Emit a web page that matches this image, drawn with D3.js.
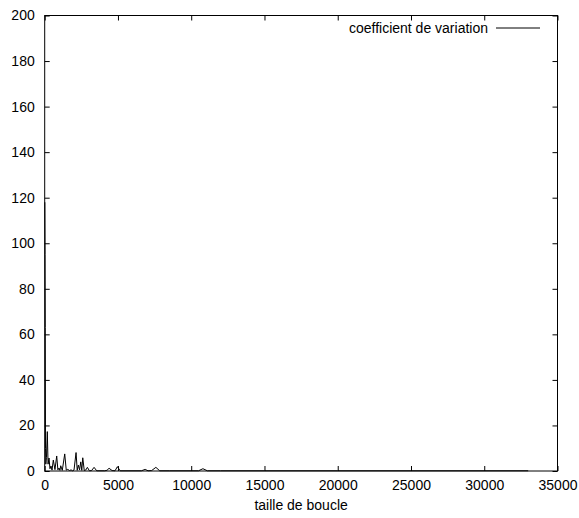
<!DOCTYPE html>
<html>
<head>
<meta charset="utf-8">
<script src="https://cdn.jsdelivr.net/npm/d3@7"></script>
<style>
  body { margin: 0; background: #fff; }
  svg { display: block; }
  text { font-family: "Liberation Sans", Arial, sans-serif; font-size: 14px; fill: #000; }
</style>
</head>
<body>
<svg id="chart" width="579" height="518"></svg>
<script>
'use strict';

// loop size vs coefficient of variation
var loopSizes = [10, 25, 40, 55, 75, 120, 178, 230, 294, 360, 431, 500, 588, 700, 820, 900, 977, 1040, 1094, 1200, 1367, 1470, 1572, 1700, 1800, 1900, 2000, 2140, 2220, 2297, 2380, 2461, 2530, 2598, 2700, 2800, 2912, 3050, 3200, 3370, 3550, 4100, 4250, 4395, 4600, 4800, 4963, 5150, 6600, 6856, 7050, 7300, 7588, 7850, 8500, 10500, 10800, 11100, 12000, 15000, 20000, 25000, 30000, 33000];
var cvValues = [118, 95, 63, 10, 3, 6, 17.3, 3, 5.7, 1, 2.2, 0.4, 4.8, 0.6, 6.6, 0.5, 1.3, 0.3, 2.3, 0.3, 7.5, 0.4, 0.7, 0.2, 0.5, 0.1, 0.4, 8.1, 0.3, 2.6, 0.5, 4, 0.3, 5.8, 0.2, 0.4, 1.6, 0.1, 0.2, 1.6, 0.1, 0.1, 0.3, 1.2, 0.2, 0.1, 1.9, 0.1, 0.1, 0.7, 0.1, 0.2, 1.6, 0.1, 0.1, 0.1, 1, 0.1, 0.1, 0.1, 0.1, 0.1, 0.1, 0.1];
var xTicks = [0, 5000, 10000, 15000, 20000, 25000, 30000, 35000];
var yTicks = [0, 20, 40, 60, 80, 100, 120, 140, 160, 180, 200];
var seriesName = "coefficient de variation";
var xLabel = "taille de boucle";

var margin = {left: 44.7, right: 21.5, top: 15.5, bottom: 47};
var svg = d3.select("#chart");
var width = +svg.attr("width");
var height = +svg.attr("height");
var plotW = width - margin.left - margin.right;
var plotH = height - margin.top - margin.bottom;

var x = d3.scaleLinear().domain([0, 35000]).range([margin.left, margin.left + plotW]);
var y = d3.scaleLinear().domain([0, 200]).range([margin.top + plotH, margin.top]);

var points = loopSizes.map(function(d, i) {
    return [d, cvValues[i]];
});

var tickLen = 5;

// ticks on all four sides, pointing inward (gnuplot style)
var axisBottom = d3.axisBottom(x).tickValues(xTicks).tickSize(-tickLen).tickPadding(9).tickFormat(d3.format("d"));
var axisTop = d3.axisTop(x).tickValues(xTicks).tickSize(-tickLen).tickFormat("");
var axisLeft = d3.axisLeft(y).tickValues(yTicks).tickSize(-tickLen).tickPadding(10).tickFormat(d3.format("d"));
var axisRight = d3.axisRight(y).tickValues(yTicks).tickSize(-tickLen).tickFormat("");

function styleAxis(g) {
    g.select(".domain").remove();
    g.selectAll(".tick line").attr("stroke", "#000").attr("stroke-width", 1);
    g.selectAll("text").attr("font-size", "14px").attr("font-family", "Liberation Sans, Arial, sans-serif").attr("fill", "#000");
}

svg.append("g").attr("transform", "translate(0," + (margin.top + plotH) + ")").call(axisBottom).call(styleAxis);
svg.append("g").attr("transform", "translate(0," + margin.top + ")").call(axisTop).call(styleAxis);
svg.append("g").attr("transform", "translate(" + margin.left + ",0)").call(axisLeft).call(styleAxis);
svg.append("g").attr("transform", "translate(" + (margin.left + plotW) + ",0)").call(axisRight).call(styleAxis);

svg.append("rect")
    .attr("x", margin.left)
    .attr("y", margin.top)
    .attr("width", plotW)
    .attr("height", plotH)
    .attr("fill", "none")
    .attr("stroke", "#000")
    .attr("stroke-width", 1);

var line = d3.line()
    .x(function(d) { return x(d[0]); })
    .y(function(d) { return y(d[1]); });

svg.append("path")
    .datum(points)
    .attr("fill", "none")
    .attr("stroke", "#000")
    .attr("stroke-width", 1)
    .attr("d", line);

// legend
var legendY = 28;
svg.append("text")
    .attr("x", 488)
    .attr("y", legendY + 5)
    .attr("text-anchor", "end")
    .text(seriesName);
svg.append("line")
    .attr("x1", 496)
    .attr("x2", 540)
    .attr("y1", legendY)
    .attr("y2", legendY)
    .attr("stroke", "#000")
    .attr("stroke-width", 1);

svg.append("text")
    .attr("x", margin.left + plotW / 2)
    .attr("y", 510)
    .attr("text-anchor", "middle")
    .text(xLabel);
</script>
</body>
</html>
